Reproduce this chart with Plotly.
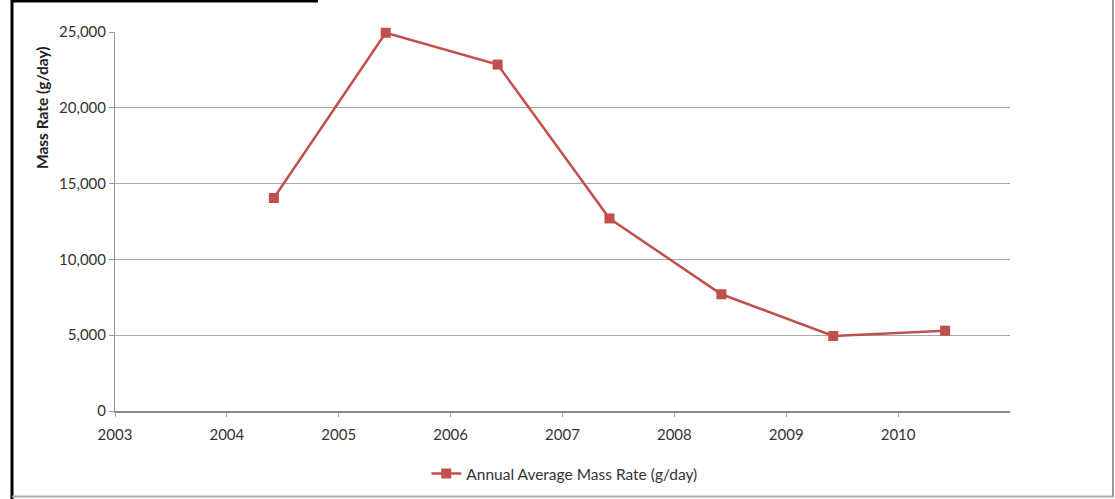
import plotly.graph_objects as go

years = [2004.42, 2005.42, 2006.42, 2007.42, 2008.42, 2009.42, 2010.42]
mass_rate = [14050, 24950, 22850, 12700, 7700, 4950, 5300]
x_ticks = [2003, 2004, 2005, 2006, 2007, 2008, 2009, 2010]
y_ticks = [0, 5000, 10000, 15000, 20000, 25000]
y_tick_labels = ["0", "5,000", "10,000", "15,000", "20,000", "25,000"]
y_title = "Mass Rate (g/day)"
series_name = "Annual Average Mass Rate (g/day)"

W, H = 1115, 499
L, R, T, B = 115, 105, 32, 88
pw, ph = W - L - R, H - T - B

def px(x):
    return (x - L) / pw

def py(y):
    return (H - B - y) / ph

fig = go.Figure()
fig.add_trace(go.Scatter(
    x=years, y=mass_rate, mode="lines+markers",
    name=series_name, cliponaxis=False,
    line=dict(color="#C0504D", width=2.5),
    marker=dict(symbol="square", size=10, color="#C0504D"),
))

font = "Lato, 'Open Sans', sans-serif"
fig.update_layout(
    width=W, height=H,
    margin=dict(l=L, r=R, t=T, b=B, autoexpand=False),
    paper_bgcolor="white", plot_bgcolor="white",
    font=dict(family=font, size=15, color="#333333"),
    showlegend=True,
    legend=dict(orientation="h", x=0.502, xanchor="center",
                yref="container", y=1 - 474 / H, yanchor="middle",
                font=dict(size=15.5, color="#333333")),
    xaxis=dict(range=[2003, 2011], tickvals=x_ticks, ticktext=[str(v) for v in x_ticks],
               automargin=False,
               showgrid=False, zeroline=False, showline=True, linecolor="#888888", linewidth=2,
               ticks="outside", ticklen=4, tickcolor="#aaaaaa", tickfont=dict(size=15),
               ticklabelstandoff=5),
    yaxis=dict(range=[0, 25000], tickvals=y_ticks, ticktext=y_tick_labels,
               automargin=False,
               showgrid=True, gridcolor="#a8a8a8", gridwidth=1, zeroline=False,
               showline=True, linecolor="#999999", linewidth=1,
               ticks="outside", ticklen=5, tickcolor="#999999", tickfont=dict(size=15)),
    annotations=[dict(text="<b>" + y_title + "</b>", xref="paper", yref="paper",
                      x=px(42), y=py(108), textangle=-90, showarrow=False,
                      xanchor="center", yanchor="middle",
                      font=dict(size=15.5, color="#222222"))],
)

# Frame lines around the chart image
shapes = [
    dict(type="line", xref="paper", yref="paper", x0=px(12), x1=px(12), y0=py(0), y1=py(499),
         line=dict(color="black", width=3)),
    dict(type="line", xref="paper", yref="paper", x0=px(11), x1=px(318), y0=py(1), y1=py(1),
         line=dict(color="black", width=3)),
    dict(type="line", xref="paper", yref="paper", x0=px(1113), x1=px(1113), y0=py(0), y1=py(497),
         line=dict(color="#999999", width=2)),
    dict(type="line", xref="paper", yref="paper", x0=px(12), x1=px(1114), y0=py(496.5), y1=py(496.5),
         line=dict(color="#aaaaaa", width=2)),
]
fig.update_layout(shapes=shapes)

fig.write_html("out.html", config={"displayModeBar": False},
               post_script="document.body.style.margin='0';document.body.style.overflow='hidden';")
